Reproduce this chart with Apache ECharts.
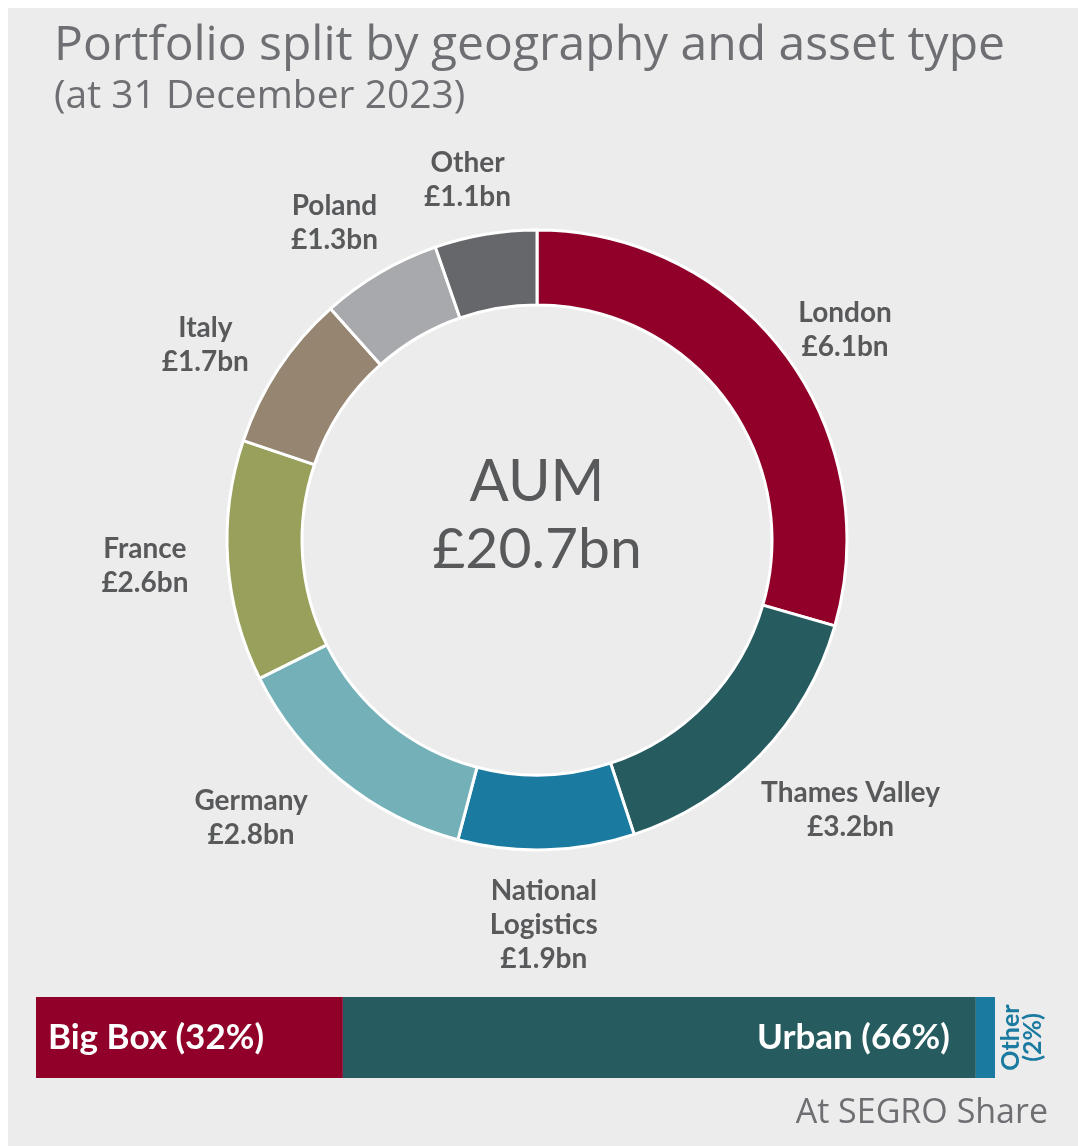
<!DOCTYPE html>
<html>
<head>
<meta charset="utf-8">
<script src="https://cdn.jsdelivr.net/npm/echarts@6/dist/echarts.min.js"></script>
<style>
  html, body { margin: 0; padding: 0; background: #ffffff; }
  #chart { position: absolute; left: 8px; top: 8px; width: 1070px; height: 1138px; background: #ececec; }
</style>
</head>
<body>
<div id="chart"></div>
<script>
// ---- Data ----
const regions = ['London', 'Thames Valley', 'National Logistics', 'Germany', 'France', 'Italy', 'Poland', 'Other'];
const regionValues = [6.1, 3.2, 1.9, 2.8, 2.6, 1.7, 1.3, 1.1];
const totalLabel = ['AUM', '£20.7bn'];
const assetTypes = ['Big Box', 'Urban', 'Other'];
const assetShares = [32, 66, 2];

// ---- Styles ----
const regionColors = ['#900028', '#265b5f', '#1a7aa0', '#73b0b8', '#99a05b', '#958571', '#a8a9ac', '#66676b'];
const assetColors = ['#900028', '#265b5f', '#1a7aa0'];
const labelNudges = [[-2, 22], [34, 0], [-5, -4], [-41, -24], [-5, -2], [-8, 18], [-6, 17], [-5, 22]];

const FONT = 'Lato, "Open Sans", sans-serif';
const TFONT = '"Open Sans", Lato, sans-serif';
const chart = echarts.init(document.getElementById('chart'));

const pieData = regions.map((n, i) => ({ name: n, value: regionValues[i], itemStyle: { color: regionColors[i] } }));
const labelData = regions.map((n, i) => ({ name: n, value: regionValues[i], label: { offset: labelNudges[i] } }));

const barSeries = assetTypes.map((t, i) => {
  let label;
  if (i === 0) {
    label = { show: true, position: 'insideLeft', distance: 12, color: '#fff', fontSize: 35, fontWeight: 'bold', fontFamily: FONT,
      formatter: () => `${t} (${assetShares[i]}%)` };
  } else if (i === 1) {
    label = { show: true, position: 'insideRight', distance: 26, color: '#fff', fontSize: 35, fontWeight: 'bold', fontFamily: FONT,
      formatter: () => `${t} (${assetShares[i]}%)` };
  } else {
    label = { show: true, position: 'right', distance: 5, rotate: 90, align: 'center', verticalAlign: 'top',
      color: assetColors[i], fontSize: 25, fontWeight: 'bold', fontFamily: FONT, lineHeight: 22,
      formatter: () => `${t}\n(${assetShares[i]}%)` };
  }
  return {
    type: 'bar', stack: 'asset', name: t, data: [assetShares[i]], barWidth: '100%',
    itemStyle: { color: assetColors[i] }, label, silent: true
  };
});

chart.setOption({
  animation: false,
  backgroundColor: '#ececec',
  title: [
    { text: 'Portfolio split by geography and asset type', left: 41, top: 9,
      textStyle: { color: '#6e6f72', fontSize: 48, fontWeight: 'normal', fontFamily: TFONT } },
    { text: '(at 31 December 2023)', left: 41, top: 64,
      textStyle: { color: '#6e6f72', fontSize: 39, fontWeight: 'normal', fontFamily: TFONT } },
    { text: totalLabel[0], left: 524, top: 440, textAlign: 'center',
      textStyle: { color: '#58595b', fontSize: 58, fontWeight: 'normal', fontFamily: FONT } },
    { text: totalLabel[1], left: 524, top: 508, textAlign: 'center',
      textStyle: { color: '#58595b', fontSize: 57, fontWeight: 'normal', fontFamily: FONT } },
    { text: 'At SEGRO Share', right: 25, top: 1083,
      textStyle: { color: '#6e6f72', fontSize: 34, fontWeight: 'normal', fontFamily: TFONT } }
  ],
  grid: { left: 28, right: 83, top: 989, height: 81 },
  xAxis: { type: 'value', min: 0, max: 100, show: false },
  yAxis: { type: 'category', data: ['share'], show: false },
  series: [
    {
      type: 'pie', center: [529, 532], radius: [235, 310], startAngle: 90, clockwise: true,
      data: pieData, silent: true,
      itemStyle: { borderColor: '#ffffff', borderWidth: 3 },
      label: { show: false }, labelLine: { show: false }
    },
    {
      type: 'pie', center: [529, 533], radius: [365, 405], startAngle: 90, clockwise: true,
      data: labelData, silent: true,
      itemStyle: { color: 'rgba(0,0,0,0)' },
      label: {
        show: true, position: 'inside', color: '#58595b', fontSize: 28, fontWeight: 'bold', fontFamily: FONT,
        lineHeight: 34, align: 'center',
        formatter: p => `${p.name.replace('National ', 'National\n')}\n£${p.value.toFixed(1)}bn`
      },
      labelLine: { show: false }
    },
    ...barSeries
  ]
});
</script>
</body>
</html>
